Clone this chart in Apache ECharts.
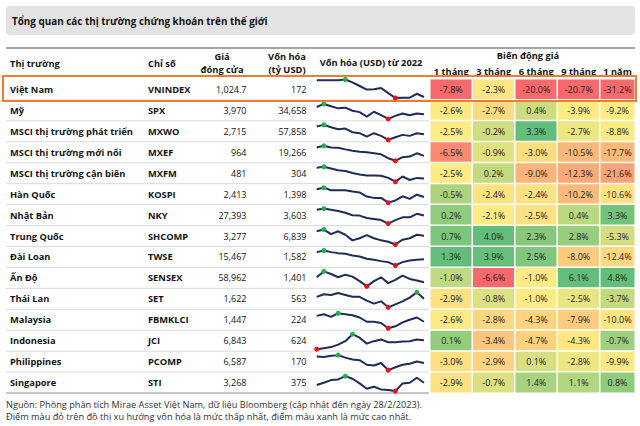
<!DOCTYPE html>
<html><head><meta charset="utf-8">
<script src="https://cdn.jsdelivr.net/npm/echarts@6.0.0/dist/echarts.min.js"></script>
<style>html,body{margin:0;padding:0;background:#fff}#c{width:640px;height:426px}</style>
</head><body><div id="c"></div>
<script>
// ---------- DATA ----------
const markets = ["Việt Nam","Mỹ","MSCI thị trường phát triển","MSCI thị trường mới nổi","MSCI thị trường cận biên","Hàn Quốc","Nhật Bản","Trung Quốc","Đài Loan","Ấn Độ","Thái Lan","Malaysia","Indonesia","Philippines","Singapore"];
const indexCodes = ["VNINDEX","SPX","MXWO","MXEF","MXFM","KOSPI","NKY","SHCOMP","TWSE","SENSEX","SET","FBMKLCI","JCI","PCOMP","STI"];
const closePrice = [1024.7,3970,2715,964,481,2413,27393,3277,15467,58962,1622,1447,6843,6587,3268];
const marketCap = [172,34658,57858,19266,304,1398,3603,6839,1582,1401,563,224,624,170,375];
const periodLabels = ["1 tháng","3 tháng","6 tháng","9 tháng","1 năm"];
const chg1m = [-7.8,-2.6,-2.5,-6.5,-2.5,-0.5,0.2,0.7,1.3,-1.0,-2.9,-2.6,0.1,-3.0,-2.9];
const chg3m = [-2.3,-2.7,-0.2,-0.9,0.2,-2.4,-2.1,4.0,3.9,-6.6,-0.8,-2.8,-3.4,-2.9,-0.7];
const chg6m = [-20.0,0.4,3.3,-3.0,-9.0,-2.4,-2.5,2.3,2.5,-1.0,-1.0,-4.3,-4.7,0.1,1.4];
const chg9m = [-20.7,-3.9,-2.7,-10.5,-12.3,-10.2,0.4,2.8,-8.0,6.1,-2.5,-7.9,-4.3,-2.8,1.1];
const chg1y = [-31.2,-9.2,-8.8,-17.7,-21.6,-10.6,3.3,-5.3,-12.4,4.8,-3.7,-10.0,-0.7,-9.9,0.8];
// market-cap trend (relative level, read from sparklines)
const capVN = [85,85,85,85,87,78,67,56,57,61,45,30,31,31,43,33];
const capUS = [103,112,105,99,101,92,88,75,89,79,68,77,84,79,84,82];
const capMXWO = [80,85,78,72,74,63,60,50,60,52,40,48,55,52,60,57];
const capMXEF = [118,123,118,117,112,108,105,103,100,97,85,77,88,90,100,92];
const capMXFM = [57,60,55,50,48,42,38,35,35,34,28,17,32,22,28,26];
const capKR = [75,80,72,72,72,68,65,52,48,48,33,40,53,45,58,51];
const capJP = [112,115,112,108,103,96,95,88,85,82,72,82,90,90,100,95];
const capCN = [48,53,40,48,38,22,28,37,28,22,18,10,24,28,38,35];
const capTW = [75,80,75,72,70,65,62,55,52,48,45,35,45,50,52,54];
const capIN = [100,118,110,100,108,102,88,72,88,100,82,92,105,95,90,85];
const capTH = [40,47,45,50,45,40,40,30,22,28,12,20,28,38,52,35];
const capMY = [70,75,67,78,75,72,65,52,52,48,32,38,50,58,65,52];
const capID = [72,75,78,85,95,115,105,88,95,100,92,92,94,95,100,98];
const capPH = [48,47,50,52,45,40,38,25,23,30,10,18,25,28,34,30];
const capSG = [63,70,78,80,90,82,68,52,58,50,48,45,68,70,85,70];
const capTrends = [capVN,capUS,capMXWO,capMXEF,capMXFM,capKR,capJP,capCN,capTW,capIN,capTH,capMY,capID,capPH,capSG];
const changeCols = [chg1m,chg3m,chg6m,chg9m,chg1y];

// ---------- STYLE / LAYOUT ----------
const FONT = '"Open Sans","Noto Sans",sans-serif';
const TXT = '#141414';
const TOP = 79, TABLE_H = 314, N = markets.length;
const ROW_H = TABLE_H / N;

function fmtNum(v){const d=Number.isInteger(v)?0:1;return v.toLocaleString('en-US',{minimumFractionDigits:d,maximumFractionDigits:d});}
const RED=[248,105,107], YEL=[255,235,132], GRN=[99,190,123];
function mix(a,b,t){return 'rgb('+a.map((x,k)=>Math.round(x+(b[k]-x)*t)).join(',')+')';}
function scaleColor(v, arr){
  const s=[...arr].sort((a,b)=>a-b);
  const mn=s[0], mx=s[s.length-1];
  const p=0.5*(s.length-1), lo=Math.floor(p), mid=s[lo]+(s[Math.ceil(p)]-s[lo])*(p-lo);
  if(v<=mid) return mix(RED,YEL,mid===mn?1:(v-mn)/(mid-mn));
  return mix(YEL,GRN,mx===mid?0:(v-mid)/(mx-mid));
}

const grids=[], xAxes=[], yAxes=[], series=[];
// grid 0 : table text
grids.push({left:6,right:5,top:TOP,height:TABLE_H});
xAxes.push({type:'value',min:0,max:1,show:false,gridIndex:0});
yAxes.push({type:'category',data:markets,inverse:true,show:false,gridIndex:0});
// grid 1 : heatmap first four columns ; grid 2 : last column
grids.push({left:430,width:170,top:TOP,height:TABLE_H});
grids.push({left:600,width:35,top:TOP,height:TABLE_H});
[[1,periodLabels.slice(0,4)],[2,periodLabels.slice(4)]].forEach(([g,labs])=>{
  xAxes.push({type:'category',data:labs,gridIndex:g,position:'top',axisLine:{show:false},axisTick:{show:false},
    axisLabel:{interval:0,margin:3.5,color:TXT,fontSize:9.3,fontWeight:'bold',fontFamily:FONT,hideOverlap:false},splitLine:{show:false}});
  yAxes.push({type:'category',data:markets,inverse:true,show:false,gridIndex:g});
});

series.push({
  type:'custom',xAxisIndex:0,yAxisIndex:0,z:1,silent:true,
  data:markets.map((m,i)=>[0,i]),
  renderItem:function(params,api){
    const i=api.value(1); const c=api.coord([0,i]); const h=api.size([0,1])[1];
    const cy=c[1];
    const ch=[];
    ch.push({type:'line',shape:{x1:6,y1:cy+h/2,x2:635,y2:cy+h/2},
      style:{stroke:i===N-1?'#8c8c8c':'#d9d9d9',lineWidth:i===N-1?1.2:1}});
    const t=(txt,x,align,bold)=>({type:'text',style:{text:txt,x:x,y:cy,align:align,verticalAlign:'middle',
      fill:TXT,fontSize:bold?9.3:9,fontWeight:bold?'bold':'normal',fontFamily:FONT}});
    ch.push(t(markets[i],10,'left',true));
    ch.push(t(indexCodes[i],148,'left',true));
    ch.push(t(fmtNum(closePrice[i]),246.5,'right',false));
    ch.push(t(fmtNum(marketCap[i]),306.5,'right',false));
    return {type:'group',children:ch};
  }
});

// heatmap series
function heatData(cols){
  const d=[];
  cols.forEach((col,c)=>col.forEach((v,r)=>d.push({value:[c,r,v],itemStyle:{color:scaleColor(v,col)}})));
  return d;
}
const heatCommon={type:'heatmap',z:3,silent:true,
  itemStyle:{borderColor:'#fff',borderWidth:1.5},
  label:{show:true,color:'#1e1e1e',fontSize:9,fontFamily:FONT,formatter:p=>p.value[2].toFixed(1)+'%'}};
series.push(Object.assign({},heatCommon,{xAxisIndex:1,yAxisIndex:1,data:heatData(changeCols.slice(0,4))}));
series.push(Object.assign({},heatCommon,{xAxisIndex:2,yAxisIndex:2,data:heatData(changeCols.slice(4))}));

// orange highlight box for Vietnam row
series.push({type:'custom',xAxisIndex:0,yAxisIndex:0,z:10,silent:true,data:[[0,0]],
  renderItem:function(params,api){
    const c=api.coord([0,api.value(1)]); const h=api.size([0,1])[1];
    return {type:'rect',shape:{x:3,y:c[1]-h/2-3,width:633,height:h+4},
      style:{fill:'none',stroke:'#ED7D31',lineWidth:2}};
  }});

// sparklines
capTrends.forEach((arr,i)=>{
  const g=grids.length;
  const top = i===0 ? TOP+0.5 : TOP+i*ROW_H+4;
  const hh = i===0 ? 18.5 : 15;
  grids.push({left:316.7,width:107.3,top:top,height:hh});
  xAxes.push({type:'category',gridIndex:g,boundaryGap:false,data:arr.map((v,k)=>k),show:false});
  yAxes.push({type:'value',gridIndex:g,min:'dataMin',max:'dataMax',show:false,scale:true});
  const mx=Math.max(...arr), mn=Math.min(...arr);
  series.push({type:'line',xAxisIndex:g,yAxisIndex:g,z:5,silent:true,symbol:'none',showSymbol:true,showAllSymbol:true,
    lineStyle:{color:'#1f2b5b',width:2},
    data:arr.map(v=>v===mx?{value:v,symbol:'circle',symbolSize:5,itemStyle:{color:'#23b04b'}}
                 :v===mn?{value:v,symbol:'circle',symbolSize:5,itemStyle:{color:'#ee1111'}}:v)});
});

const hdr=(text,x,y,align)=>({type:'text',x:x,y:y,style:{text:text,align:align||'center',verticalAlign:'middle',
  fill:TXT,fontSize:9.3,fontWeight:'bold',fontFamily:FONT}});
const graphic=[
  {type:'rect',shape:{x:6,y:6,width:629,height:29,r:4},style:{fill:'#e3e3e3'}},
  {type:'text',x:12,y:20.5,style:{text:'Tổng quan các thị trường chứng khoán trên thế giới',verticalAlign:'middle',
    fill:TXT,fontSize:9.9,fontWeight:'bold',fontFamily:FONT}},
  {type:'line',shape:{x1:6,y1:48,x2:635,y2:48},style:{stroke:'#a6a6a6',lineWidth:2.2}},
  hdr('Thị trường',10,63,'left'),
  hdr('Chỉ số',148,63,'left'),
  hdr('Giá',222,56.5),hdr('đóng cửa',222,69.5),
  hdr('Vốn hóa',287,56.5),hdr('(tỷ USD)',287,69.5),
  hdr('Vốn hóa (USD) từ 2022',371,62),
  hdr('Biến động giá',528,55),
  {type:'text',x:6,y:404.5,style:{text:'Nguồn: Phòng phân tích Mirae Asset Việt Nam, dữ liệu Bloomberg (cập nhật đến ngày 28/2/2023).',
    verticalAlign:'middle',fill:'#333',fontSize:9.2,lineHeight:10,fontFamily:FONT}},
  {type:'text',x:6,y:416,style:{text:'Điểm màu đỏ trên đồ thị xu hướng vốn hóa là mức thấp nhất, điểm màu xanh là mức cao nhất.',
    verticalAlign:'middle',fill:'#333',fontSize:9.2,lineHeight:10,fontFamily:FONT}}
];

const chart=echarts.init(document.getElementById('c'),null,{renderer:'svg'});
chart.setOption({animation:false,backgroundColor:'#fff',grid:grids,xAxis:xAxes,yAxis:yAxes,series:series,graphic:graphic});
</script></body></html>
